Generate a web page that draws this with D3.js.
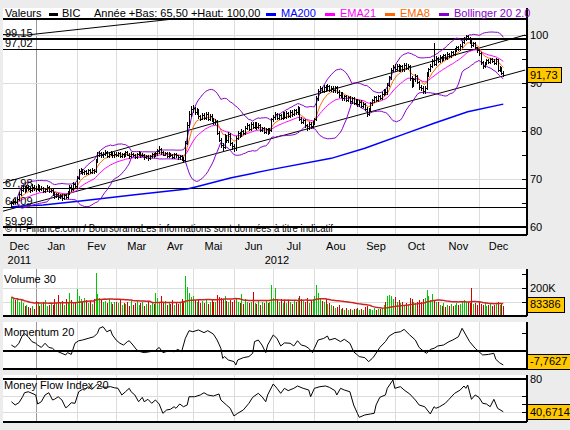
<!DOCTYPE html>
<html>
<head>
<meta charset="utf-8">
<script src="https://cdn.jsdelivr.net/npm/d3@7"></script>
<style>
  body { margin: 0; background: #ececec; }
  svg { display: block; font-family: "Liberation Sans", Arial, sans-serif; font-size: 11px; }
  .crisp { shape-rendering: crispEdges; }
</style>
</head>
<body>
<svg class="chart" width="570" height="430"></svg>
<script>
// ---- values ----
const monthNames = ['Dec', 'Jan', 'Fev', 'Mar', 'Avr', 'Mai', 'Jun', 'Jul', 'Aou', 'Sep', 'Oct', 'Nov', 'Dec']
const monthDays = [13, 22, 21, 22, 19, 22, 21, 22, 23, 20, 23, 22, 14]
const yearNames = ['2011', '2012']
const ticker = 'BIC'
const yearLow = 65.5
const yearHigh = 100

const closes = [
  65.0, 65.4, 65.2, 65.8, 66.9, 67.8, 68.2, 67.6, 68.3, 68.0, 67.7, 68.4, 68.1,
  68.0, 68.5, 67.9, 68.2, 67.6, 67.9, 68.3, 67.5, 67.8, 66.9, 66.4, 66.8, 66.2, 66.5, 66.0, 66.7, 66.3, 67.1, 68.4, 68.0, 68.9, 68.5,
  70.2, 71.6, 71.9, 71.4, 71.7, 71.2, 71.8, 71.5, 71.9, 71.6, 73.8, 75.0, 75.4, 74.9, 75.3, 75.6, 74.8, 75.2, 75.5, 74.9, 75.3,
  75.0, 75.4, 74.8, 75.2, 74.9, 75.6, 75.1, 74.7, 75.3, 75.0, 74.6, 75.2, 75.5, 74.9, 75.1, 74.5, 74.8, 74.3, 74.7, 75.2, 74.9, 75.4,
  75.8, 76.3, 75.6, 75.1, 75.4, 74.8, 75.3, 75.0, 74.6, 75.2, 74.9, 74.5, 74.8, 74.2, 73.9, 77.5, 81.2, 83.5, 84.6,
  84.8, 83.9, 84.3, 83.1, 82.6, 83.4, 82.8, 83.6, 82.5, 83.2, 82.4, 81.8, 82.1, 79.6, 78.2, 77.0, 76.6, 78.9, 78.1, 79.3, 77.4, 76.8,
  76.4, 78.6, 79.5, 79.1, 80.0, 79.6, 80.7, 81.2, 80.5, 81.5, 80.9, 81.6, 80.8, 81.3, 80.2, 80.6, 79.8, 80.4, 79.7, 80.3, 82.4,
  82.9, 83.5, 82.7, 83.3, 82.8, 83.6, 83.0, 83.8, 83.2, 84.0, 83.5, 84.3, 83.9, 84.8, 82.6, 81.9, 82.3, 81.2, 80.7, 81.5, 81.0, 81.8,
  82.4, 86.8, 88.3, 88.9, 88.4, 89.2, 88.7, 89.4, 88.6, 89.0, 88.5, 89.1, 88.2, 87.4, 87.9, 86.8, 87.3, 86.5, 87.0, 86.2, 86.8, 85.9, 86.4,
  85.6, 86.1, 85.2, 85.7, 84.6, 83.6, 84.5, 85.8, 86.4, 87.0, 86.5, 87.3, 86.9, 87.8, 88.5, 88.1, 89.6, 91.2, 92.7, 93.4,
  93.0, 93.6, 92.8, 93.5, 92.9, 93.8, 93.2, 93.6, 91.0, 89.6, 90.8, 91.5, 90.2, 89.1, 88.9, 88.3, 89.0, 91.8, 92.9, 93.6, 94.5, 94.0, 95.2,
  94.6, 95.5, 94.9, 95.8, 95.2, 96.1, 95.6, 96.4, 96.0, 96.9, 97.4, 97.0, 97.8, 98.5, 99.2, 99.8, 99.4, 98.6, 97.9, 98.3, 97.4, 96.8,
  96.2, 94.3, 93.6, 94.1, 94.8, 94.4, 95.0, 94.6, 94.2, 94.9, 92.8, 93.2, 92.1, 91.73,
]

const highs = [
  65.5, 65.9, 65.8, 66.2, 67.2, 68.3, 68.7, 68.5, 68.8, 68.7, 68.3, 68.9, 68.7,
  68.5, 68.9, 68.7, 68.6, 68.4, 68.2, 68.7, 68.5, 68.1, 67.9, 67.2, 67.1, 67.0, 66.9, 66.8, 66.9, 66.9, 67.4, 68.8, 68.7, 69.3, 69.2,
  70.6, 72.0, 72.3, 72.1, 71.9, 71.9, 72.1, 72.0, 72.2, 72.1, 74.1, 75.6, 75.9, 75.7, 75.6, 76.1, 75.8, 75.6, 75.9, 75.7, 75.6,
  75.6, 75.7, 75.6, 75.5, 75.4, 75.9, 75.8, 75.4, 75.6, 75.5, 75.2, 75.5, 75.8, 75.7, 75.4, 75.3, 75.1, 75.0, 74.9, 75.5, 75.4, 75.7,
  76.2, 76.8, 76.5, 75.9, 75.7, 75.6, 75.6, 75.5, 75.2, 75.5, 75.4, 75.0, 75.1, 74.9, 74.5, 77.9, 81.8, 84.2, 85.3,
  85.4, 85.1, 84.8, 84.6, 83.4, 83.8, 83.7, 84.0, 83.9, 83.5, 83.5, 82.7, 82.5, 82.3, 80.0, 78.6, 77.5, 79.4, 79.2, 79.7, 79.5, 77.8,
  77.2, 78.9, 79.9, 79.8, 80.4, 80.3, 81.0, 81.6, 81.4, 81.8, 81.8, 81.9, 81.8, 81.6, 81.5, 80.9, 80.9, 80.7, 80.6, 80.6, 82.8,
  83.3, 83.9, 83.7, 83.6, 83.6, 83.9, 83.9, 84.1, 84.0, 84.3, 84.3, 84.6, 84.5, 85.2, 84.9, 82.9, 82.6, 82.6, 81.5, 81.8, 81.8, 82.1,
  82.8, 87.2, 88.7, 89.3, 89.2, 89.6, 89.5, 89.8, 89.6, 89.4, 89.3, 89.4, 89.3, 88.5, 88.2, 88.1, 87.6, 87.6, 87.3, 87.2, 87.1, 87.0, 86.7,
  86.7, 86.4, 86.4, 86.0, 85.9, 84.9, 84.8, 86.1, 86.7, 87.3, 87.3, 87.6, 87.5, 88.1, 88.8, 88.8, 89.9, 91.5, 93.1, 93.8,
  93.9, 94.0, 93.9, 93.8, 93.7, 94.1, 94.1, 93.9, 93.8, 91.4, 91.1, 91.8, 91.7, 90.5, 89.5, 89.3, 89.4, 92.3, 93.2, 94.0, 94.9, 98.3, 95.6,
  95.5, 95.8, 95.7, 96.1, 96.0, 96.4, 96.3, 96.7, 96.7, 97.2, 97.7, 97.7, 98.1, 98.8, 99.5, 100.0, 99.9, 99.6, 98.9, 98.6, 98.5, 97.6,
  97.0, 96.4, 94.6, 94.4, 95.1, 95.0, 95.3, 95.2, 94.9, 95.2, 95.0, 93.5, 93.4, 92.4,
]

const lows = [
  64.4, 64.7, 64.9, 65.0, 65.6, 66.6, 67.5, 67.2, 67.4, 67.7, 67.3, 67.5, 67.8,
  67.6, 67.8, 67.6, 67.7, 67.3, 67.3, 67.6, 67.2, 67.3, 66.7, 66.1, 66.2, 65.9, 66.0, 65.7, 65.8, 66.0, 66.1, 66.9, 67.6, 67.8, 68.2,
  68.3, 69.9, 71.3, 71.1, 71.1, 71.0, 71.0, 71.2, 71.3, 71.3, 71.4, 73.5, 74.7, 74.6, 74.6, 75.0, 74.5, 74.6, 74.9, 74.6, 74.6,
  74.7, 74.7, 74.5, 74.5, 74.6, 74.7, 74.9, 74.4, 74.5, 74.8, 74.3, 74.4, 75.0, 74.6, 74.7, 74.2, 74.3, 74.0, 74.1, 74.5, 74.6, 74.7,
  75.1, 75.5, 75.3, 74.9, 74.9, 74.5, 74.6, 74.7, 74.3, 74.4, 74.6, 74.2, 74.2, 73.9, 73.6, 73.7, 77.2, 80.8, 83.1,
  84.0, 83.6, 83.6, 82.8, 82.2, 82.4, 82.5, 82.5, 82.2, 82.2, 82.1, 81.5, 81.5, 79.3, 77.9, 76.6, 76.1, 76.4, 77.7, 77.8, 77.0, 76.3,
  75.9, 76.1, 78.3, 78.8, 78.9, 79.3, 79.3, 80.4, 80.2, 80.3, 80.6, 80.6, 80.5, 80.6, 79.9, 80.0, 79.5, 79.5, 79.4, 79.5, 80.1,
  82.1, 82.6, 82.4, 82.5, 82.5, 82.6, 82.7, 82.8, 83.0, 83.0, 83.2, 83.3, 83.6, 83.6, 82.3, 81.6, 81.7, 80.9, 80.3, 80.5, 80.7, 80.8,
  81.5, 82.2, 86.5, 88.0, 88.1, 88.1, 88.4, 88.5, 88.3, 88.3, 88.2, 88.2, 87.9, 87.1, 87.1, 86.5, 86.5, 86.2, 86.2, 85.9, 85.9, 85.6, 85.6,
  85.3, 85.3, 84.9, 84.9, 84.3, 83.2, 83.3, 84.2, 85.5, 86.1, 86.2, 86.3, 86.6, 86.6, 87.5, 87.8, 87.8, 89.3, 90.9, 92.4,
  92.6, 92.7, 92.5, 92.5, 92.6, 92.6, 92.9, 92.9, 90.7, 89.2, 89.3, 90.5, 89.9, 88.8, 88.5, 87.9, 88.0, 88.8, 91.5, 92.6, 93.3, 93.7, 93.7,
  94.3, 94.4, 94.6, 94.7, 95.0, 95.0, 95.4, 95.4, 95.8, 95.8, 96.6, 96.8, 96.8, 97.6, 98.3, 99.0, 99.1, 98.4, 97.6, 97.7, 97.2, 96.5,
  95.9, 94.0, 93.2, 93.4, 93.9, 94.1, 94.2, 94.4, 93.9, 94.0, 92.5, 92.6, 91.8, 91.4,
]

// volumes in thousands of shares
const volumes = [
  135, 120, 110, 125, 95, 118, 90, 72, 80, 62, 55, 70, 50,
  105, 98, 72, 86, 95, 110, 68, 80, 92, 74, 120, 88, 150, 96, 105, 78, 118, 95, 166, 110, 88, 102,
  193, 140, 120, 98, 125, 110, 92, 105, 86, 118, 310, 160, 128, 115, 96, 108, 88, 120, 95, 84, 102,
  95, 88, 110, 76, 92, 85, 98, 72, 105, 80, 90, 115, 78, 88, 95, 70, 84, 99, 75, 90, 82, 164,
  130, 95, 142, 88, 105, 78, 92, 85, 110, 76, 98, 82, 95, 120, 105, 290, 210, 164, 135,
  140, 110, 95, 120, 88, 105, 92, 115, 86, 98, 110, 95, 102, 150, 135, 125, 118, 140, 105, 96, 112, 98,
  115, 125, 98, 90, 157, 85, 120, 95, 88, 100, 174, 92, 85, 110, 78, 95, 88, 105, 92, 98, 225,
  130, 200, 110, 95, 120, 88, 105, 92, 115, 98, 86, 110, 95, 125, 140, 118, 105, 96, 130, 88, 110, 120,
  140, 220, 165, 130, 105, 98, 118, 85, 92, 76, 70, 58, 62, 75, 48, 55, 40, 52, 38, 46, 42, 50, 44,
  55, 38, 48, 42, 60, 72, 50, 45, 40, 52, 38, 44, 48, 55, 80, 95, 140, 150, 145, 120,
  135, 98, 110, 88, 95, 80, 92, 78, 125, 118, 95, 88, 102, 110, 95, 120, 130, 185, 140, 115, 160, 105, 98,
  95, 80, 72, 88, 65, 78, 70, 84, 66, 75, 92, 80, 86, 100, 110, 95, 98, 88, 200, 82, 90, 78,
  96, 85, 78, 90, 70, 76, 84, 68, 74, 88, 95, 76, 85, 72,
]
const volumeMaLast = 83386

const ma200Days = [0, 17, 37, 66, 94, 99, 117, 138, 171, 189, 211, 226, 244, 263]
const ma200Values = [64.2, 64.6, 65.4, 66.7, 67.9, 68.4, 70.2, 71.9, 74.3, 76.4, 79.5, 81.6, 84.0, 85.6]

const momentumDays = [0, 2, 4, 6, 7, 9, 11, 13, 14, 16, 18, 20, 22, 23, 25, 27, 29, 30, 32, 34, 36, 38, 41, 44, 46, 47, 49, 51, 53, 54,
  56, 58, 60, 62, 63, 65, 67, 69, 71, 74, 77, 79, 81, 84, 87, 89, 91, 93, 95, 97, 100, 103, 105, 108, 110, 112, 113, 114, 116, 119,
  120, 121, 124, 127, 129, 130, 132, 134, 136, 137, 140, 142, 144, 146, 149, 151, 153, 155, 157, 159, 161, 162, 164, 167, 169, 170,
  173, 176, 178, 181, 183, 185, 186, 189, 191, 193, 194, 197, 200, 202, 205, 208, 210, 213, 216, 218, 220, 222, 224, 226, 228, 231,
  234, 236, 239, 241, 243, 245, 248, 250, 252, 255, 258, 259, 261, 263]
const momentumValues = [3.3, 2, 4.3, 8.9, 9.8, 7.9, 5.2, 4.3, 3.3, 2, 4.3, 2, 1.5, 0.5, -0.4, -1.3, -2.2, -0.9, -1.9, 4.3, 5.7, 6.1, 7, 7.9, 9.8, 12.6, 13.5, 10.7, 11.7, 8.9,
  6.1, 4.3, 3.3, 5.2, 5.7, 3.3, 0.6, -0.4, -0.9, -0.4, 0.2, 2, -0.9, 0, -0.4, 0.9, -0.4, 7, 11.3, 10.7, 11.7, 10.2, 11.3, 9.4, 6.1, 1.5, -4.1, -3.1, -5, -5.9,
  -7.8, -5, -3.7, -3.1, -1.3, 5.2, 6.1, 3.3, -0.9, 3.3, 8.9, 7, 2.8, 4.5, 4.3, 2.8, 5.7, 3.3, 2.8, 1.5, -0.9, 1.5, 6.1, 7, 8.3, 6.1,
  7, 5.2, 6.5, 4.3, -0.4, -2.2, -3.1, -3.7, -5.9, -4.1, -2.8, 2, 5.2, 8.3, 10.2, 10.7, 12, 8.9, 6.1, 2, 0.2, -1.3, 0.9, 1.5, 2.8, 3.3,
  5.2, 6.1, 7.9, 12.6, 8.9, 5.2, 1.5, -0.4, -2.2, -1.9, -1.3, -4.6, -6.5, -7.7627]

const mfiDays = [0, 2, 4, 6, 7, 9, 11, 13, 14, 16, 18, 20, 22, 23, 25, 27, 29, 30, 32, 34, 36, 38, 39, 41, 43, 45, 46, 48, 50, 53,
  55, 57, 59, 61, 63, 64, 66, 68, 70, 71, 73, 75, 77, 79, 81, 83, 85, 87, 88, 90, 92, 94, 95, 98, 101, 103, 105, 108, 111, 112,
  115, 117, 119, 121, 124, 127, 129, 132, 134, 136, 137, 140, 142, 144, 146, 148, 151, 153, 156, 159, 160, 162, 165, 168, 170, 173,
  174, 176, 178, 181, 183, 185, 186, 189, 192, 194, 195, 197, 200, 201, 204, 205, 208, 210, 213, 216, 218, 221, 224, 226, 227, 229,
  232, 234, 237, 240, 242, 243, 244, 246, 248, 250, 252, 254, 256, 258, 260, 263]
const mfiValues = [52.7, 48.8, 51.5, 58.7, 63.5, 64.7, 62.8, 60.8, 50, 52.7, 60.8, 63.5, 54.8, 55.6, 58.7, 54.8, 45.5, 46.7, 51.5, 50.8, 64.7, 67.6, 66.8, 70.8, 67.6, 71.6, 74, 70.8, 70, 70.8,
  69.5, 68.8, 60.8, 64.7, 68.8, 64.7, 60.8, 52.7, 58, 52.7, 55.6, 50.8, 54.8, 50, 38.8, 42.8, 43.6, 46.7, 44.8, 50, 46.7, 48.8, 58.7, 58.7, 60.8, 63.5, 60.8, 59.6, 62, 54.8,
  48.8, 44.8, 35.6, 38.8, 42.8, 50.8, 58, 62.8, 58.7, 52.7, 60.8, 74, 68.8, 62.8, 68.8, 66, 68.8, 71.6, 68.8, 66.8, 58.7, 68.8, 70.8, 71.6, 70, 66,
  60.8, 68.8, 66.8, 64.7, 48.8, 38.8, 34, 36.8, 38, 38.8, 48.8, 58, 60.8, 68.8, 78.8, 68.8, 70.8, 66.8, 62, 54.8, 48.8, 46.7, 38, 46.7, 44.8, 46.7,
  50.8, 55.6, 62.8, 66.8, 71.6, 68.8, 72.8, 55.6, 60.8, 58, 50.8, 50, 46.7, 55.6, 44.8, 40.6714]

const levels = [99.15, 97.02, 67.98, 64.09, 59.99]
const trendLines = [
  [[-4.5, 100.1], [8.3, 100.0], [85.9, 103.3]],
  [[-4.5, 69.2], [274.7, 100.0]],
  [[-4.5, 63.3], [274.7, 92.7]],
]
const seriesNames = ['MA200', 'EMA21', 'EMA8', 'Bollinger 20 2.0']
const seriesColors = ['#0000ff', '#ff00ff', '#ff6600', '#8800cc']
const copyright = '© IT-Finance.com / BoursoramaLes informations sont données à titre indicatif'

// ---- derived indicators ----
const ema = (values, n) => {
  const k = 2 / (n + 1)
  let prev
  return values.map((v, i) => (prev = i ? prev + k * (v - prev) : v))
}
const ema8 = ema(closes, 8)
const ema21 = ema(closes, 21)
const bollinger = closes.map((c, i) => {
  const w = closes.slice(Math.max(0, i - 19), i + 1)
  const m = d3.mean(w)
  const s = Math.sqrt(d3.mean(w, v => (v - m) ** 2))
  return { i, up: m + 2 * s, lo: m - 2 * s }
}).filter(b => b.i >= 3)
const volumeMa = volumes.map((v, i) => d3.mean(volumes.slice(Math.max(0, i - 29), i + 1)))

const locale = d3.formatLocale({ decimal: ',', thousands: '', grouping: [3], currency: ['', ''], minus: '-' })
const f2 = locale.format('.2f')
const f4 = locale.format('.4f')

// ---- layout ----
const left = 3
const right = 527
const svg = d3.select('.chart')

const x = d3.scaleLinear().domain([-4.5, 275.7]).range([left, right])
const priceY = d3.scaleLinear().domain([60, 100]).range([227, 35])
const volumeY = d3.scaleLinear().domain([0, 300]).range([315.5, 274.4])
const momentumY = d3.scaleLinear().domain([0, 10]).range([351, 333])
const mfiY = d3.scaleLinear().domain([40, 80]).range([412.3, 379])

const panels = [
  { id: 'price', bg: 8, top: 19, bottom: 235 },
  { id: 'volume', bg: 269, top: 269, bottom: 316 },
  { id: 'momentum', bg: 322, top: 322, bottom: 369 },
  { id: 'mfi', bg: 375, top: 375, bottom: 422 },
]

const monthStarts = monthDays.map((d, i) => d3.sum(monthDays.slice(0, i)))
const lastMonth = monthStarts.length - 1
const monthSpan = i => [
  i > 0 ? x(monthStarts[i]) : Math.max(left, x(monthStarts[1] - 21)),
  i < lastMonth ? x(monthStarts[i + 1]) : Math.min(right, x(monthStarts[i] + 21)),
]

const defs = svg.append('defs')
const g = {}
panels.forEach((p) => {
  svg.append('rect').attr('class', 'crisp')
    .attr('x', left).attr('y', p.bg).attr('width', right - left).attr('height', p.bottom - p.bg)
    .attr('fill', '#fff')
  defs.append('clipPath').attr('id', `clip-${p.id}`)
    .append('rect').attr('x', left).attr('y', p.top).attr('width', right - left).attr('height', p.bottom - p.top)
  g[p.id] = svg.append('g').attr('clip-path', `url(#clip-${p.id})`)
  // month grid
  g[p.id].selectAll('line.month')
    .data(monthStarts.slice(1))
    .enter().append('line')
    .attr('class', 'crisp')
    .attr('x1', d => Math.round(x(d)) + 0.5).attr('x2', d => Math.round(x(d)) + 0.5)
    .attr('y1', p.top).attr('y2', p.bottom)
    .attr('stroke', (d, i) => (i === 0 ? '#9a9a9a' : '#dcdcdc'))
})

// horizontal grids
const hGrid = (panel, scale, values) => {
  g[panel].selectAll(null).data(values).enter().append('line')
    .attr('class', 'crisp')
    .attr('x1', left).attr('x2', right)
    .attr('y1', d => Math.round(scale(d)) + 0.5).attr('y2', d => Math.round(scale(d)) + 0.5)
    .attr('stroke', '#dcdcdc')
}
hGrid('price', priceY, [60, 70, 80, 90, 100])
hGrid('volume', volumeY, [100, 200])
hGrid('mfi', mfiY, [40, 60])

// ---- price panel ----
const pg = g.price
pg.selectAll('line.level').data(levels).enter().append('line')
  .attr('class', 'crisp')
  .attr('x1', left).attr('x2', right)
  .attr('y1', d => priceY(d)).attr('y2', d => priceY(d))
  .attr('stroke', '#000').attr('stroke-width', 1.5)

const priceLine = d3.line().x(d => x(d[0])).y(d => priceY(d[1]))
pg.selectAll('path.trend').data(trendLines).enter().append('path')
  .attr('d', priceLine).attr('fill', 'none').attr('stroke', '#000').attr('stroke-width', 1)

pg.append('path')
  .datum(d3.zip(ma200Days, ma200Values))
  .attr('d', priceLine).attr('fill', 'none').attr('stroke', seriesColors[0]).attr('stroke-width', 1.5)

const bandLine = key => d3.line().x(d => x(d.i)).y(d => priceY(d[key]))
pg.append('path').datum(bollinger).attr('d', bandLine('up'))
  .attr('fill', 'none').attr('stroke', seriesColors[3])
pg.append('path').datum(bollinger).attr('d', bandLine('lo'))
  .attr('fill', 'none').attr('stroke', seriesColors[3])

const seriesLine = d3.line().x((d, i) => x(i)).y(d => priceY(d))
pg.append('path').datum(ema21).attr('d', seriesLine)
  .attr('fill', 'none').attr('stroke', seriesColors[1])
pg.append('path').datum(ema8).attr('d', seriesLine)
  .attr('fill', 'none').attr('stroke', seriesColors[2])

// OHLC bars (open = previous close)
const bars = pg.append('g').attr('class', 'crisp').attr('fill', '#000')
closes.forEach((c, i) => {
  const o = i ? closes[i - 1] : c
  const hi = Math.max(highs[i], o, c)
  const lo = Math.min(lows[i], o, c)
  const cx = Math.round(x(i))
  bars.append('rect').attr('x', cx).attr('width', 1)
    .attr('y', Math.round(priceY(hi))).attr('height', Math.max(1, Math.round(priceY(lo)) - Math.round(priceY(hi)) + 1))
  bars.append('rect').attr('x', cx - 1).attr('width', 1).attr('y', Math.round(priceY(o))).attr('height', 1)
  bars.append('rect').attr('x', cx + 1).attr('width', 1).attr('y', Math.round(priceY(c))).attr('height', 1)
})

svg.selectAll('text.level').data(levels).enter().append('text')
  .attr('x', 5).attr('y', d => priceY(d) - 2)
  .text(d => f2(d))
svg.append('text').attr('x', 5).attr('y', 232)
  .attr('textLength', 328).attr('lengthAdjust', 'spacingAndGlyphs')
  .text(copyright)

// ---- volume panel ----
g.volume.selectAll('rect.vol').data(volumes).enter().append('rect')
  .attr('class', 'crisp')
  .attr('x', (d, i) => Math.round(x(i)))
  .attr('width', 1)
  .attr('y', d => volumeY(d))
  .attr('height', d => volumeY(0) - volumeY(d))
  .attr('fill', (d, i) => (i && closes[i] < closes[i - 1] ? '#d00000' : '#00c800'))
g.volume.append('path').datum(volumeMa)
  .attr('d', d3.line().x((d, i) => x(i)).y(d => volumeY(d)))
  .attr('fill', 'none').attr('stroke', '#d02020').attr('stroke-width', 1.5)

// ---- momentum panel ----
g.momentum.append('line').attr('class', 'crisp')
  .attr('x1', left).attr('x2', right).attr('y1', momentumY(0)).attr('y2', momentumY(0))
  .attr('stroke', '#000').attr('stroke-width', 1.5)
g.momentum.append('path').datum(d3.zip(momentumDays, momentumValues))
  .attr('d', d3.line().x(d => x(d[0])).y(d => momentumY(d[1])))
  .attr('fill', 'none').attr('stroke', '#000')

// ---- mfi panel ----
g.mfi.append('line').attr('class', 'crisp')
  .attr('x1', left).attr('x2', right).attr('y1', mfiY(80)).attr('y2', mfiY(80))
  .attr('stroke', '#000').attr('stroke-width', 1.5)
g.mfi.append('path').datum(d3.zip(mfiDays, mfiValues))
  .attr('d', d3.line().x(d => x(d[0])).y(d => mfiY(d[1])))
  .attr('fill', 'none').attr('stroke', '#000')

// ---- frames, right axes ----
panels.forEach((p) => {
  svg.append('line').attr('class', 'crisp')
    .attr('x1', left).attr('x2', right).attr('y1', p.bottom).attr('y2', p.bottom)
    .attr('stroke', '#000').attr('stroke-width', 1.5)
  svg.append('line').attr('class', 'crisp')
    .attr('x1', right).attr('x2', right).attr('y1', p.bg).attr('y2', p.bottom)
    .attr('stroke', '#000').attr('stroke-width', 1.5)
})
svg.append('line').attr('class', 'crisp')
  .attr('x1', left).attr('x2', right).attr('y1', 19).attr('y2', 19)
  .attr('stroke', '#000').attr('stroke-width', 1.5)

const axisTicks = (scale, values, labels) => {
  svg.selectAll(null).data(values).enter().append('line')
    .attr('class', 'crisp')
    .attr('x1', right - 5).attr('x2', right)
    .attr('y1', d => Math.round(scale(d)) + 0.5).attr('y2', d => Math.round(scale(d)) + 0.5)
    .attr('stroke', '#000')
  svg.selectAll(null).data(labels).enter().append('text')
    .attr('x', right + 3).attr('y', d => scale(d[0])).attr('dy', '0.35em')
    .text(d => d[1])
}
axisTicks(priceY, [60, 65, 70, 75, 80, 85, 90, 95, 100], [60, 70, 80, 90, 100].map(v => [v, `${v}`]))
axisTicks(volumeY, [100, 200, 300], [[200, '200K']])
axisTicks(momentumY, [0, 10], [])
axisTicks(mfiY, [40, 50, 60], [[80, '80']])

// value boxes
const valueBox = (value, text, scale, p) => {
  const box = svg.append('g')
  const t = box.append('text').attr('x', right + 3).text(text)
  const w = t.node().getComputedTextLength() + 6
  const h = 15
  const cy = Math.max(p.top + h / 2, Math.min(p.bottom - h / 2, scale(value)))
  box.insert('rect', 'text').attr('class', 'crisp')
    .attr('x', right).attr('y', Math.round(cy - h / 2) + 0.5).attr('width', Math.round(w)).attr('height', h)
    .attr('fill', '#ffc800').attr('stroke', '#000')
  t.attr('y', cy).attr('dy', '0.36em')
}
valueBox(closes[closes.length - 1], f2(closes[closes.length - 1]), priceY, panels[0])
valueBox(volumeMaLast / 1000, `${volumeMaLast}`, volumeY, panels[1])
valueBox(momentumValues[momentumValues.length - 1], f4(momentumValues[momentumValues.length - 1]), momentumY, panels[2])
valueBox(mfiValues[mfiValues.length - 1], f4(mfiValues[mfiValues.length - 1]), mfiY, panels[3])

// panel titles
svg.append('text').attr('x', 4).attr('y', 283).text('Volume 30')
svg.append('text').attr('x', 4).attr('y', 336).text('Momentum 20')
svg.append('text').attr('x', 4).attr('y', 389).text('Money Flow Index 20')

// ---- time axis ----
svg.selectAll('text.month').data(monthNames).enter().append('text')
  .attr('x', (d, i) => d3.mean(monthSpan(i)))
  .attr('y', 249.5)
  .attr('text-anchor', 'middle')
  .text(d => d)
const yearSpans = [
  [monthSpan(0)[0], monthSpan(0)[1]],
  [monthSpan(1)[0], monthSpan(lastMonth)[1]],
]
svg.selectAll('text.year').data(yearNames).enter().append('text')
  .attr('x', (d, i) => d3.mean(yearSpans[i]))
  .attr('y', 263.5)
  .attr('text-anchor', 'middle')
  .text(d => d)

// ---- legend ----
const legend = svg.append('g').attr('transform', 'translate(0,17)')
legend.append('text').attr('x', 5).text('Valeurs')
legend.append('rect').attr('class', 'crisp').attr('x', 49).attr('y', -4).attr('width', 9).attr('height', 3).attr('fill', '#000')
legend.append('text').attr('x', 62).text(ticker)
legend.append('text').attr('x', 94).text(`Année +Bas: ${f2(yearLow)} +Haut: ${f2(yearHigh)}`)
const legendX = [266, 325, 385, 439]
seriesNames.forEach((name, i) => {
  legend.append('rect').attr('class', 'crisp')
    .attr('x', legendX[i]).attr('y', -4).attr('width', 10).attr('height', 3).attr('fill', seriesColors[i])
  legend.append('text').attr('x', legendX[i] + 15).attr('fill', seriesColors[i]).text(name)
})
</script>
</body>
</html>
